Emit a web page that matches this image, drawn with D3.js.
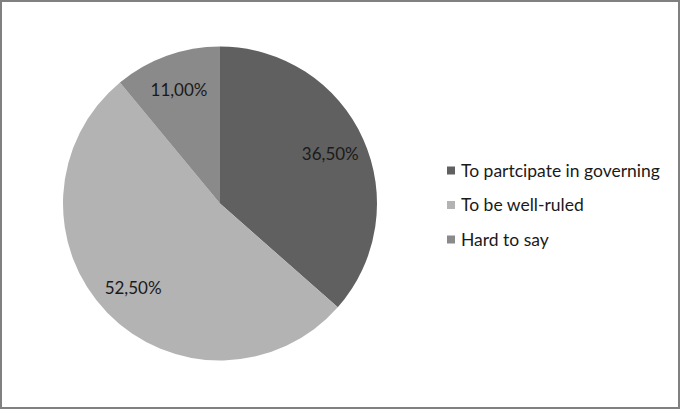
<!DOCTYPE html>
<html><head><meta charset="utf-8">
<script src="https://cdn.jsdelivr.net/npm/d3@7"></script>
<style>html,body{margin:0;padding:0;background:#fff;}svg{display:block;}</style>
</head><body>
<script>
const categories = ["To partcipate in governing", "To be well-ruled", "Hard to say"];
const values = [36.5, 52.5, 11.0];
const labels = ["36,50%", "52,50%", "11,00%"];
const colors = ["#606060", "#b3b3b3", "#8a8a8a"];

const W = 680, H = 409;
const svg = d3.select("body").append("svg").attr("width", W).attr("height", H);
svg.append("rect").attr("x", 1).attr("y", 1).attr("width", W - 2).attr("height", H - 2)
  .attr("fill", "#fff").attr("stroke", "#808080").attr("stroke-width", 2);

const cx = 220, cy = 203.5, r = 157;
const pie = d3.pie().sort(null).value(d => d)(values);
const arc = d3.arc().innerRadius(0).outerRadius(r);
const labelArc = d3.arc().innerRadius(121).outerRadius(121);
const g = svg.append("g").attr("transform", `translate(${cx},${cy})`);
g.selectAll("path").data(pie).enter().append("path")
  .attr("d", arc).attr("fill", (d, i) => colors[i]);
g.selectAll("text").data(pie).enter().append("text")
  .attr("transform", d => `translate(${labelArc.centroid(d)})`)
  .attr("text-anchor", "middle").attr("dy", "0.35em")
  .attr("font-family", "Lato, 'Open Sans', sans-serif").attr("font-size", 17)
  .attr("fill", "#1a1a1a")
  .text((d, i) => labels[i]);

const lg = svg.append("g").attr("transform", "translate(447,0)");
const ly = d3.scalePoint().domain(categories).range([170.5, 239.5]);
categories.forEach((c, i) => {
  lg.append("rect").attr("x", 0).attr("y", ly(c) - 4).attr("width", 8).attr("height", 8).attr("fill", colors[i]);
  lg.append("text").attr("x", 14).attr("y", ly(c)).attr("dy", "0.35em")
    .attr("font-family", "Lato, 'Open Sans', sans-serif").attr("font-size", 17.5)
    .attr("fill", "#1a1a1a").text(c);
});
</script>
</body></html>
